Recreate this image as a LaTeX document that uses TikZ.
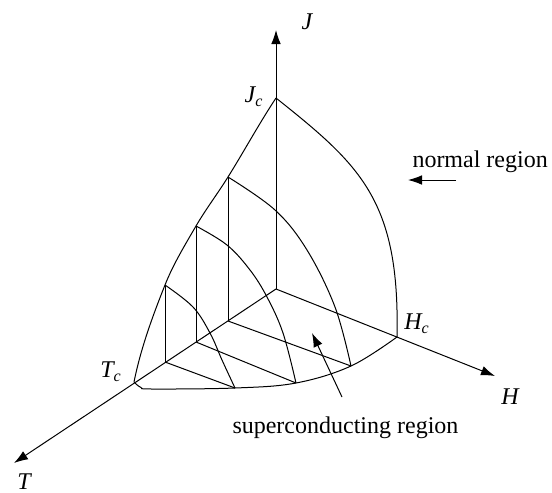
\documentclass[tikz,border=0pt]{standalone}
\usepackage{fontspec}
\setmainfont{Liberation Serif}
\usepackage{xcolor}
\usepackage{tikz}
\usetikzlibrary{arrows.meta}

\begin{document}
\begin{tikzpicture}[x=0.5pt, y=-0.5pt, line width=0.5pt,
  axisline/.style={-{Latex[length=7pt,width=4.8pt]}},
  lbl/.style={font=\fontsize{12}{14}\selectfont\itshape, inner sep=0pt},
  txt/.style={font=\fontsize{12}{14}\selectfont, inner sep=0pt, anchor=base west}]
\useasboundingbox (0,0) rectangle (552,493);
\coordinate (O)    at (276,289);
\coordinate (Jc)   at (276,98);
\coordinate (Tc)   at (134,382);
\coordinate (Hc)   at (397,337);
\coordinate (Jtip) at (276,30);
\coordinate (Ttip) at (14,463);
\coordinate (Htip) at (495,376);
\draw[axisline] (O) -- (Jtip);
\draw[axisline] (O) -- (Ttip);
\draw[axisline] (O) -- (Htip);
\foreach \n/\ax/\ay/\by/\cx/\cy in {1/165/362/285/235/388, 2/196/342/226/296/383, 3/228/321/177/351/366}{
\coordinate (A\n) at (\ax,\ay);
\coordinate (B\n) at (\ax,\by);
\coordinate (C\n) at (\cx,\cy);
\draw (A\n) -- (B\n);
\draw (A\n) -- (C\n);
}
\draw (Tc) .. controls (140.7,348.7) and (152.4,316.6) .. (B1)
  .. controls (173.1,264.5) and (185,244.9) .. (B2)
  .. controls (205.5,209.7) and (217.9,193.2) .. (B3)
  .. controls (244.4,150.7) and (259,123.7) .. (Jc);
\draw (Jc) .. controls (360,165) and (400,200) .. (Hc);
\draw plot[smooth, tension=0.6] coordinates {(Tc) (141,387.5) (152,389) (C1) (C2) (C3) (Hc)};
\draw plot[smooth, tension=0.6] coordinates {(B1) (193,307) (210,333) (222,360) (C1)};
\draw plot[smooth, tension=0.6] coordinates {(B2) (227,245) (250,270) (267,297) (283,333) (C2)};
\draw plot[smooth, tension=0.6] coordinates {(B3) (275,210) (307,250) (335,307) (C3)};
\node[lbl] (lblJ)  at (307,22)  {J};
\node[lbl] (lblJc) at (254,97)  {J\textsubscript{c}};
\node[lbl] (lblTc) at (111,372) {T\textsubscript{c}};
\node[lbl] (lblHc) at (417,324) {H\textsubscript{c}};
\node[lbl] (lblH)  at (510,397) {H};
\node[lbl] (lblT)  at (24,482)  {T};
\node[txt] (normal) at (412,167) {normal region};
\node[txt] (super)  at (232,433) {superconducting region};
\coordinate (nrS) at (456,180);
\coordinate (nrE) at (408,180);
\coordinate (scS) at (342,397);
\coordinate (scE) at (312,333);
\draw[axisline] (nrS) -- (nrE);
\draw[axisline] (scS) -- (scE);
\end{tikzpicture}
\end{document}
